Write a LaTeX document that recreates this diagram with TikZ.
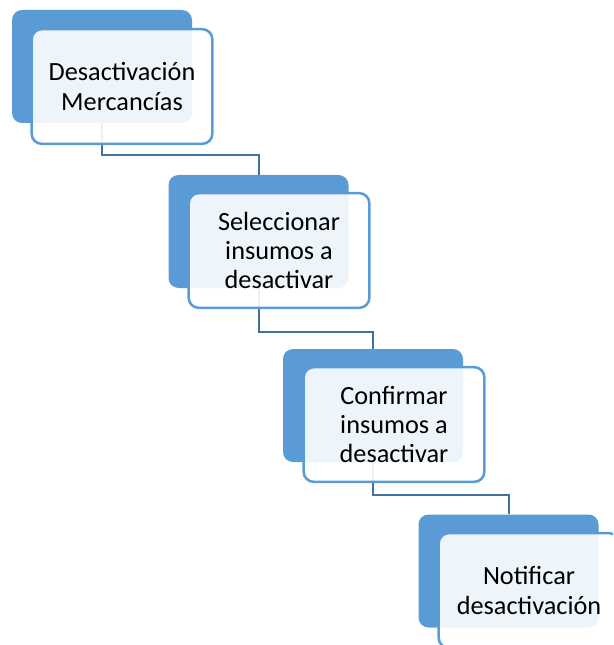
\documentclass[tikz,border=0pt]{standalone}
\usepackage{fontspec}
\setmainfont{Carlito}
\definecolor{accent}{HTML}{5B9BD5}
\definecolor{connc}{HTML}{41719C}
\pgfdeclarelayer{bg}
\pgfsetlayers{bg,main}
\begin{document}
\begin{tikzpicture}[x=0.75pt,y=-0.75pt,
  back/.style={fill=accent, rounded corners=7.5pt, minimum width=135pt, minimum height=84.75pt, inner sep=0pt},
  front/.style={draw=accent, line width=1.9pt, fill=white, fill opacity=0.9, text opacity=1, rounded corners=7.5pt,
    minimum width=135.5pt, minimum height=86pt, align=center, inner sep=0pt,
    font=\fontsize{19.7}{22}\selectfont},
  link/.style={draw=connc, line width=1.5pt}]
\path[use as bounding box] (0,0) rectangle (613,645);
\clip (0,0) rectangle (613,645);
\node[back] (b1) at (102,66.5) {};
\node[front] (t1) at (122,86.5) {Desactivación\\Mercancías};
\node[back] (b2) at (258.5,231.5) {};
\node[front] (t2) at (279,250.5) {Seleccionar\\insumos a\\desactivar};
\node[back] (b3) at (373,405.5) {};
\node[front] (t3) at (394,424.5) {Confirmar\\insumos a\\desactivar};
\node[back] (b4) at (508.5,571) {};
\node[front] (t4) at (529,590.5) {Notificar\\desactivación};
\begin{pgfonlayer}{bg}
\draw[link] (b1.south) -- ++(0,32) -| (b2.north);
\draw[link] (b2.south) -- ++(0,44) -| (b3.north);
\draw[link] (b3.south) -- ++(0,33) -| (b4.north);
\end{pgfonlayer}
\end{tikzpicture}
\end{document}
